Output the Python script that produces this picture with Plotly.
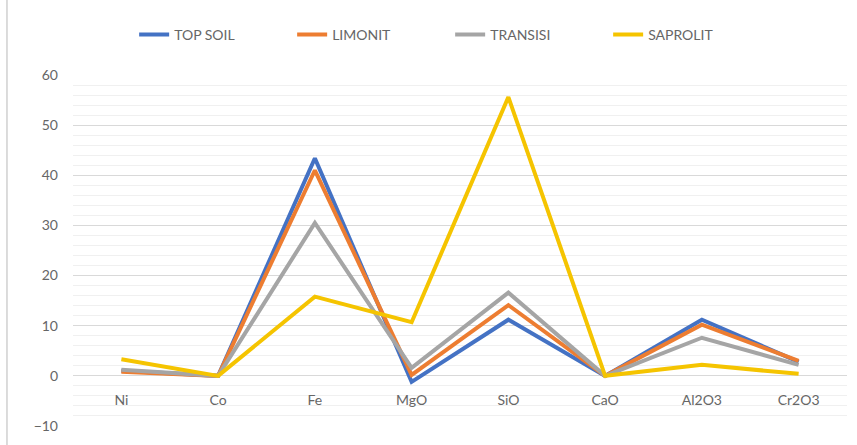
import plotly.graph_objects as go

categories = ["Ni", "Co", "Fe", "MgO", "SiO", "CaO", "Al2O3", "Cr2O3"]
top_soil = [1.0, 0.0, 43.4, -1.2, 11.2, 0.0, 11.2, 2.8]
limonit = [0.8, 0.0, 41.0, 0.2, 14.1, 0.0, 10.2, 3.0]
transisi = [1.2, 0.0, 30.5, 1.6, 16.6, 0.0, 7.6, 2.2]
saprolit = [3.3, 0.0, 15.8, 10.7, 55.6, 0.0, 2.2, 0.4]

series = [
    ("TOP SOIL", top_soil, "#4472C4"),
    ("LIMONIT", limonit, "#ED7D31"),
    ("TRANSISI", transisi, "#A5A5A5"),
    ("SAPROLIT", saprolit, "#F5C400"),
]

fig = go.Figure()
for name, vals, col in series:
    fig.add_trace(go.Scatter(x=categories, y=vals, name=name, mode="lines",
                             line=dict(color=col, width=4)))

y_min, y_max = -10, 60
fig.update_layout(
    width=857, height=445,
    margin=dict(l=73, r=10, t=75, b=19, autoexpand=False),
    plot_bgcolor="white", paper_bgcolor="white",
    font=dict(family="Lato, Open Sans, sans-serif", size=13, color="#666666"),
    legend=dict(orientation="h", x=0.079, xanchor="left", y=1.114, yanchor="middle",
                font=dict(size=14, color="#666666"), entrywidth=113,
                entrywidthmode="pixels", traceorder="normal"),
    xaxis=dict(type="category", range=[-0.5, 7.5], showgrid=False, showline=False,
               zeroline=False, anchor="free", position=(0 - y_min) / (y_max - y_min),
               ticks="", ticklabelstandoff=14, tickfont=dict(size=14, color="#666666")),
    yaxis=dict(range=[y_min, y_max], dtick=10, showgrid=True, gridcolor="#D9D9D9",
               gridwidth=1, zeroline=False, showline=False, ticks="",
               ticklabelstandoff=14, tickfont=dict(size=14, color="#666666"),
               minor=dict(dtick=2, showgrid=True, gridcolor="#F0F0F0", gridwidth=1)),
    showlegend=True,
)
fig.add_shape(type="line", xref="paper", yref="paper",
              x0=-0.0853, x1=-0.0853, y0=-0.06, y1=1.22,
              line=dict(color="#D0D0D0", width=1.5))

fig.write_html("out.html")
